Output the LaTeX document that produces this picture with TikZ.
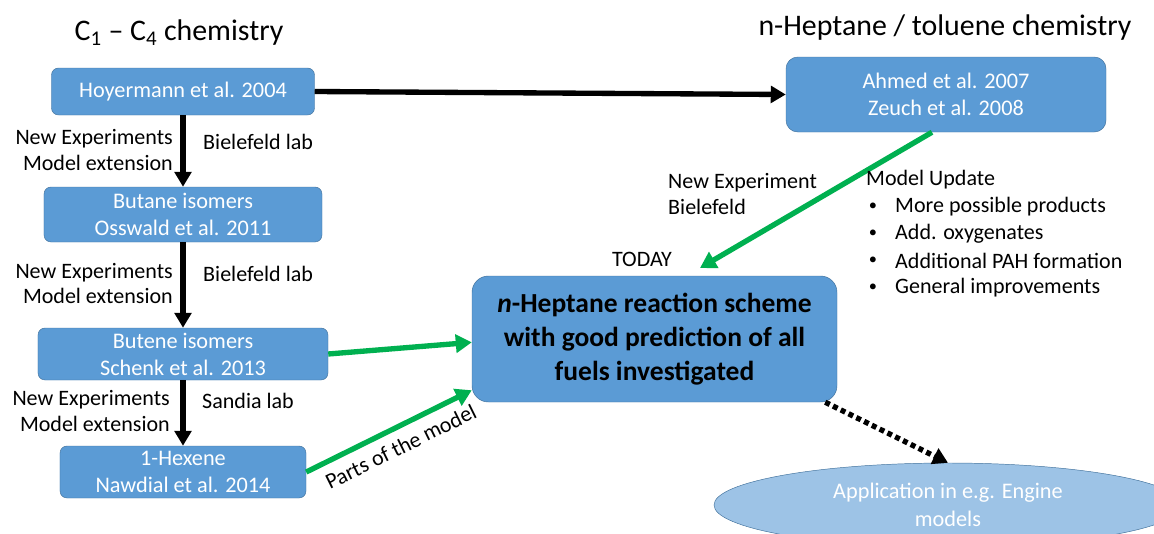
\documentclass[tikz,border=0pt]{standalone}
\usepackage{fontspec}
\setmainfont{Carlito}
\usetikzlibrary{arrows.meta,positioning,shapes.geometric}
\definecolor{boxblue}{RGB}{91,155,213}
\definecolor{boxedge}{RGB}{65,113,156}
\definecolor{paleblue}{RGB}{157,195,230}
\definecolor{sprout}{RGB}{0,176,80}

\tikzset{
  lit/.style={fill=boxblue,draw=boxedge,thin,rounded corners=6pt,text=white,
    font=\fontsize{19}{23}\selectfont,align=center,inner sep=0pt},
  lbl/.style={font=\fontsize{18.8}{22}\selectfont,inner sep=0pt},
  flow/.style={line width=1.6mm,-{Triangle[length=4.5mm,width=5mm]}},
  feed/.style={sprout,line width=1.6mm,-{Triangle[length=4.8mm,width=5.4mm]}}
}

\begin{document}
\begin{tikzpicture}[x=0.3mm,y=-0.3mm]
  \useasboundingbox (0,0) rectangle (1154,533);
  % headings
  \node[font=\fontsize{25.5}{28}\selectfont,inner sep=0pt] (hl) at (179,33) {C\textsubscript{1} – C\textsubscript{4} chemistry};
  \node[font=\fontsize{25.5}{28}\selectfont,inner sep=0pt] (hr) at (945,28) {n-Heptane / toluene chemistry};
  % literature boxes
  \node[lit,minimum width=78.9mm,minimum height=14.1mm] (hoy) at (183,91.5) {Hoyermann et al. 2004};
  \node[lit,minimum width=83.4mm,minimum height=16.5mm] (butane) at (183,214.5) {Butane isomers\\Osswald et al. 2011};
  \node[lit,minimum width=87mm,minimum height=15.6mm] (butene) at (183,354) {Butene isomers\\Schenk et al. 2013};
  \node[lit,minimum width=73.8mm,minimum height=15.6mm] (hexene) at (183,472) {1-Hexene\\Nawdial et al. 2014};
  \node[lit,rounded corners=10pt,minimum width=96mm,minimum height=22.5mm] (ahmed) at (946,94.5) {Ahmed et al. 2007\\Zeuch et al. 2008};
  \node[lit,rounded corners=14pt,text=black,minimum width=109.5mm,minimum height=37.8mm,
    font=\fontsize{23.5}{29}\selectfont\bfseries] (scheme) at (654.5,339)
    {{\itshape n}-Heptane reaction scheme\\with good prediction of all\\fuels investigated};
  \node[ellipse,fill=paleblue,draw=boxedge,thin,text=white,align=center,inner sep=0pt,
    minimum width=140.4mm,minimum height=25.2mm,font=\fontsize{19}{24}\selectfont] (app) at (948,505)
    {Application in e.g. Engine\\models};
  % black chain
  \draw[flow] (hoy) -- (butane);
  \draw[flow] (butane) -- (butene);
  \draw[flow] (butene) -- (hexene);
  \draw[flow] (hoy.east) -- (ahmed.west);
  \draw[line width=1.6mm,dash pattern=on 1.5mm off 1.1mm,-{Triangle[length=4.5mm,width=5mm]}]
    ([xshift=-3.6mm]scheme.south east) -- (app.north);
  % labels on the chain
  \node[lbl,align=right,anchor=east] (ne1) at (173,150) {New Experiments\\Model extension};
  \node[lbl,anchor=west] (bl1) at (203,142) {Bielefeld lab};
  \node[lbl,align=right,anchor=east] (ne2) at (173,283.5) {New Experiments\\Model extension};
  \node[lbl,anchor=west] (bl2) at (203,274) {Bielefeld lab};
  \node[lbl,align=right,anchor=east] (ne3) at (170,411) {New Experiments\\Model extension};
  \node[lbl,anchor=west] (sl) at (202,401) {Sandia lab};
  % green feeds
  \coordinate (today) at (700,268);
  \draw[feed] (butene.east) -- ([yshift=-1mm]scheme.west);
  \draw[feed] (hexene.east) -- ([yshift=3.6mm]scheme.south west)
    node[lbl,text=black,sloped,anchor=north,inner sep=2.6mm,pos=0.52] (parts) {Parts of the model};
  \draw[feed] ([xshift=-4.2mm]ahmed.south) -- (today);
  \node[lbl] (td) at (642,259) {TODAY};
  \node[lbl,align=left,anchor=west] (nb) at (668,194) {New Experiment\\Bielefeld};
  \node[lbl,anchor=west] (mu) at (866,180) {Model Update};
  \foreach \y/\t in {207/More possible products,234/Add. oxygenates,261/Additional PAH formation,288/General improvements}{
    \node[lbl,font=\fontsize{14}{16}\selectfont] (dot) at (873,\y) {\textbullet};
    \node[lbl,anchor=west] (it) at (895,\y) {\t};
  }
\end{tikzpicture}
\end{document}
